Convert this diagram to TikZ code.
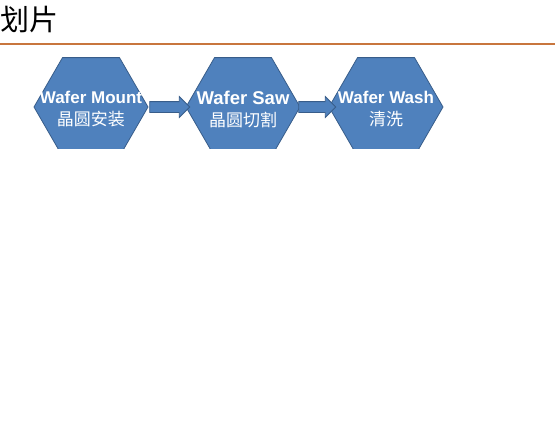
\documentclass[tikz,border=0pt]{standalone}
\usepackage{fontspec}
\setmainfont{Liberation Sans}
\newfontfamily\cjk{Noto Sans CJK SC}
\usetikzlibrary{shapes.geometric,shapes.arrows}

\definecolor{hexfill}{HTML}{4F81BD}
\definecolor{hexedge}{HTML}{385D8A}
\definecolor{rulecolor}{HTML}{C8763E}

\begin{document}
\begin{tikzpicture}[x=1pt,y=-1pt,
	hexa/.style={regular polygon, regular polygon sides=6, minimum size=114pt,
		inner sep=0pt, fill=hexfill, draw=hexedge, line width=0.8pt},
	hextext/.style={text=white, align=center, inner sep=0pt,
		font=\fontsize{17}{22}\selectfont},
	blockarrow/.style={single arrow, fill=hexfill, draw=hexedge, line width=0.8pt,
		minimum height=40pt, inner xsep=0pt, inner ysep=5pt,
		single arrow head extend=5pt}]
	\fill[white] (0,0) rectangle (555,426);
	\useasboundingbox (0,0) rectangle (555,426);

	\node[anchor=west, inner sep=0pt, font=\cjk\fontsize{29}{29}\selectfont] (title) at (0,20) {划片};
	\draw[rulecolor, line width=2.5pt] (0,44) -- (555,44);

	\begin{scope}
		\clip (0,0) rectangle (555,148);
		\node[hexa] (mount) at (91,107) {};
		\node[hexa] (saw) at (243,107) {};
		\node[hexa] (wash) at (386,107) {};
	\end{scope}

	\node[hextext] (mountlbl) at ([yshift=-2.5pt]mount.center) {\textbf{Wafer Mount}\\\cjk 晶圆安装};
	\node[hextext, font=\fontsize{18.5}{22}\selectfont] (sawlbl) at ([yshift=-2.5pt]saw.center) {\textbf{Wafer Saw}\\\fontsize{17}{22}\selectfont\cjk 晶圆切割};
	\node[hextext] (washlbl) at ([yshift=-2.5pt]wash.center) {\textbf{Wafer Wash}\\\cjk 清洗};

	\path (mount) -- (saw) node[midway, blockarrow] (arrowa) {};
	\path (saw) -- (wash) node[midway, blockarrow, minimum height=37pt] (arrowb) {};
\end{tikzpicture}
\end{document}
